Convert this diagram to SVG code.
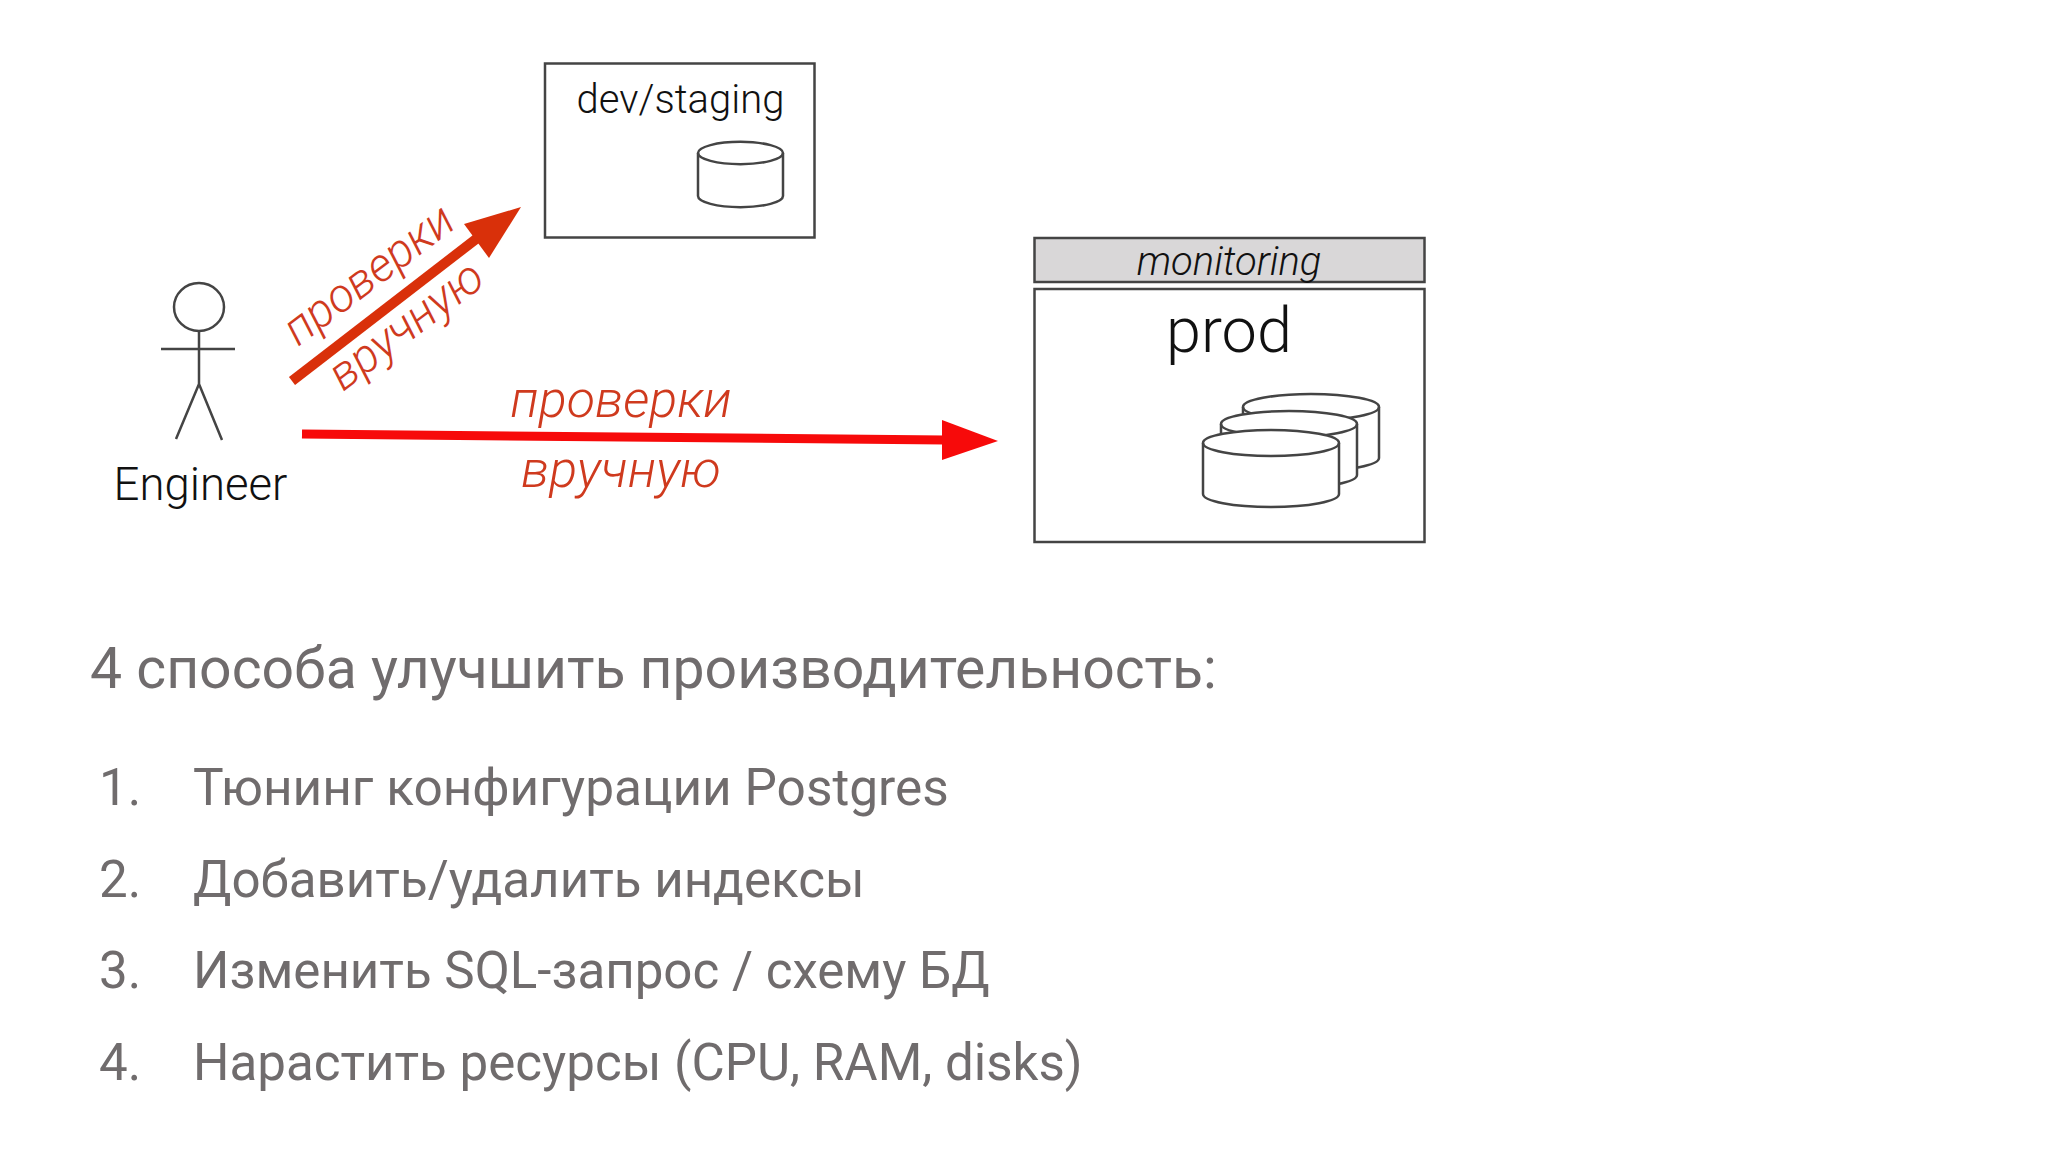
<svg xmlns="http://www.w3.org/2000/svg" width="2048" height="1152" viewBox="0 0 2048 1152">
<style>
text{font-family:Roboto,"Liberation Sans",sans-serif}
.l{font-weight:300;fill:#111}
.b{fill:#fff;stroke:#444;stroke-width:2.5}
.m{fill:none;stroke:#444;stroke-width:2.5}
.r{font-weight:300;font-style:italic;fill:#cf3a1e;font-size:52px}
.d{font-size:47px}
.g{fill:#706c6d;font-size:51.100px}
.h{font-size:57.100px}
.f{font-size:51.400px}
</style>
<defs>
<g id="cyl"><path class="b" d="M0 11A42 11 0 0 1 85 11V54A42 11 0 0 1 0 54Z"/><path class="m" d="M0 11A42 11 0 0 0 85 11"/></g>
<g id="cyl2"><path class="b" d="M0 13A68 13 0 0 1 136 13V64A68 13 0 0 1 0 64Z"/><path class="m" d="M0 13A68 13 0 0 0 136 13"/></g>
</defs>
<rect width="2048" height="1152" fill="#fff"/>
<g id="engineer">
<ellipse class="m" cx="199" cy="307" rx="25" ry="24"/>
<path class="m" d="M199 331V384M161 349H235M199 384L176 439M199 384L222 440"/>
<text class="l" x="200.500" y="499.500" font-size="45.500" text-anchor="middle">Engineer</text>
</g>
<g id="dev">
<rect class="b" x="545" y="63.500" width="269.500" height="174"/>
<text class="l" x="680.500" y="113" font-size="40" text-anchor="middle">dev/staging</text>
<use href="#cyl" x="698" y="142"/>
</g>
<g id="monitoring">
<rect x="1034.500" y="238" width="390" height="44" fill="#d9d7d8" stroke="#444" stroke-width="2.500"/>
<text class="l" x="1229" y="275" font-size="40" font-style="italic" text-anchor="middle">monitoring</text>
</g>
<g id="prod">
<rect class="b" x="1034.500" y="289" width="390" height="253"/>
<text class="l" x="1229" y="352" font-size="63" text-anchor="middle">prod</text>
<use href="#cyl2" x="1243" y="394"/>
<use href="#cyl2" x="1221" y="411"/>
<use href="#cyl2" x="1203" y="430"/>
</g>
<g id="connectors">
<path d="M292 381L480 236" stroke="#d9300a" stroke-width="10" fill="none"/>
<path d="M521 207L489 258L464 224Z" fill="#d9300a"/>
<path d="M302 434L945 440" stroke="#f70a0a" stroke-width="9" fill="none"/>
<path d="M998 441L942 420V460Z" fill="#f70a0a"/>
</g>
<g id="labels">
<text class="r d" transform="translate(298 347) rotate(-37)">проверки</text>
<text class="r d" transform="translate(343 392) rotate(-37)">вручную</text>
<text class="r" x="621" y="417" text-anchor="middle">проверки</text>
<text class="r" x="621" y="487" text-anchor="middle">вручную</text>
</g>
<g id="list">
<text class="g h" x="90" y="688">4 способа улучшить производительность:</text>
<text class="g" x="99" y="805">1.</text><text class="g f" x="193" y="805">Тюнинг конфигурации Postgres</text>
<text class="g" x="99" y="897">2.</text><text class="g" x="193" y="897">Добавить/удалить индексы</text>
<text class="g" x="99" y="988">3.</text><text class="g" x="193" y="988">Изменить SQL-запрос / схему БД</text>
<text class="g" x="99" y="1080">4.</text><text class="g" x="193" y="1080">Нарастить ресурсы (CPU, RAM, disks)</text>
</g>
</svg>
